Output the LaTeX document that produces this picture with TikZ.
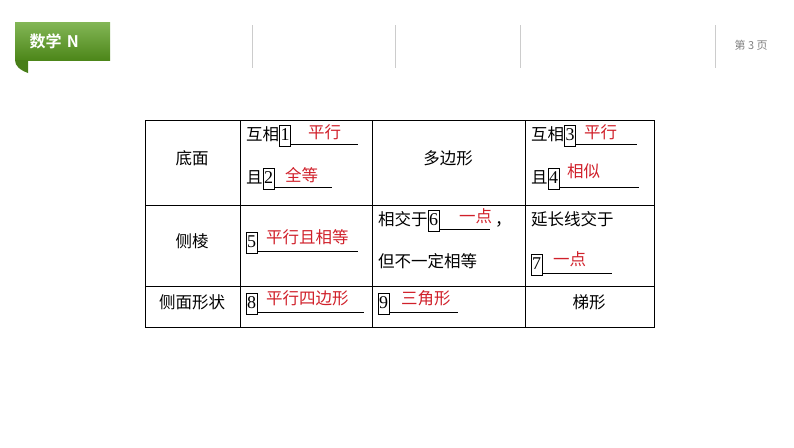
\documentclass[tikz,border=0pt]{standalone}
\usepackage{fontspec}
\setmainfont{Liberation Serif}
\newfontfamily\cjk{Noto Sans CJK SC}
\definecolor{ans}{HTML}{D0202A}
\definecolor{grn}{HTML}{5A9E1E}
\begin{document}
\begin{tikzpicture}[x=1pt,y=-1pt,
  txt/.style={inner sep=0pt,anchor=base west,font=\cjk\fontsize{16.5}{16.5}\selectfont},
  ctxt/.style={inner sep=0pt,font=\cjk\fontsize{16.5}{16.5}\selectfont},
  ans/.style={txt,text=ans},
  num/.style={draw,inner sep=1pt,anchor=base west,font=\fontsize{18}{18}\selectfont,minimum height=21pt,text depth=3pt},
  uline/.style={line width=0.7pt},
  grid/.style={line width=0.8pt}]
\useasboundingbox (0,0) rectangle (794,447);
% header
\shade[top color=grn!75!white,bottom color=grn!85!black] (15,22) rectangle (110,60);
\fill[grn!80!black] (15,60) -- (28,60) -- (28,73) .. controls (20,70) and (15,66) .. (15,60) -- cycle;
\node[anchor=west,text=white,font=\fontspec{Noto Sans CJK SC Bold}\fontsize{16}{16}\selectfont] (hd) at (26,41) {数学\,\,N};
\foreach \xx in {252,395,520,715} \draw[gray!40] (\xx,25) -- (\xx,68);
\node[anchor=west,text=gray,font=\cjk\fontsize{11}{11}\selectfont] (pg) at (731,45) {第 3 页};
% table grid
\draw[grid] (145,120) rectangle (654,327);
\foreach \yy in {205,286} \draw[grid] (145,\yy) -- (654,\yy);
\foreach \xx in {240,372,525} \draw[grid] (\xx,120) -- (\xx,327);
% col 1
\node[ctxt] (a1) at (192,158) {底面};
\node[ctxt] (a2) at (192,241) {侧棱};
\node[ctxt] (a3) at (192,302) {侧面形状};
% row1 col2
\node[txt] (t1) at (246,140) {互相};
\node[num] (n1) at (t1.base east) {1};
\draw[uline] (n1.south east) ++(0,-1.5) -- ++(67,0);
\node[ans] at (308,138) {平行};
\node[txt] (t2) at (246,183) {且};
\node[num] (n2) at (t2.base east) {2};
\draw[uline] (n2.south east) ++(0,-1.5) -- ++(58,0);
\node[ans] at (285,181) {全等};
% row1 col3
\node[ctxt] (p1) at (448,158) {多边形};
% row1 col4
\node[txt] (t3) at (531,140) {互相};
\node[num] (n3) at (t3.base east) {3};
\draw[uline] (n3.south east) ++(0,-1.5) -- ++(61,0);
\node[ans] at (584,138) {平行};
\node[txt] (t4) at (531,183) {且};
\node[num] (n4) at (t4.base east) {4};
\draw[uline] (n4.south east) ++(0,-1.5) -- ++(80,0);
\node[ans] at (567,177) {相似};
% row2
\node[num] (n5) at (246,247) {5};
\draw[uline] (n5.south east) ++(0,-1.5) -- ++(101,0);
\node[ans] at (266,243) {平行且相等};
\node[txt] (t6) at (378,225) {相交于};
\node[num] (n6) at (t6.base east) {6};
\draw[uline] (n6.south east) ++(0,-1.5) -- ++(51,0);
\node[ans] at (459,222) {一点};
\node[txt] at (495,225) {，};
\node[txt] at (378,267) {但不一定相等};
\node[txt] at (531,225) {延长线交于};
\node[num] (n7) at (531,269) {7};
\draw[uline] (n7.south east) ++(0,-1.5) -- ++(70,0);
\node[ans] at (553,265) {一点};
% row3
\node[num] (n8) at (246,308) {8};
\draw[uline] (n8.south east) ++(0,-1.5) -- ++(107,0);
\node[ans] at (266,304) {平行四边形};
\node[num] (n9) at (378,308) {9};
\draw[uline] (n9.south east) ++(0,-1.5) -- ++(69,0);
\node[ans] at (401,304) {三角形};
\node[ctxt] (tx) at (589,302) {梯形};
\end{tikzpicture}
\end{document}
